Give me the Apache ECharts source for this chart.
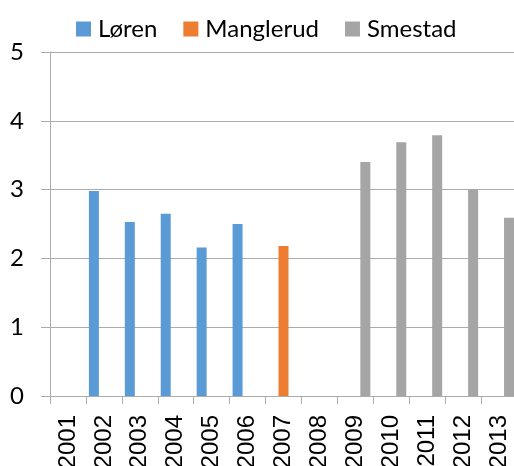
<!DOCTYPE html>
<html>
<head>
<meta charset="utf-8">
<script src="https://cdn.jsdelivr.net/npm/echarts@6/dist/echarts.min.js"></script>
<style>
  html, body { margin: 0; padding: 0; background: #fff; }
  #chart { width: 514px; height: 466px; }
</style>
</head>
<body>
<div id="chart"></div>
<script>
// categories and values
var years = ['2001', '2002', '2003', '2004', '2005', '2006', '2007', '2008', '2009', '2010', '2011', '2012', '2013'];
var loren = [null, 2.98, 2.53, 2.65, 2.16, 2.50, null, null, null, null, null, null, null];
var manglerud = [null, null, null, null, null, null, 2.18, null, null, null, null, null, null];
var smestad = [null, null, null, null, null, null, null, null, 3.40, 3.69, 3.79, 3.00, 2.59];

var gridColor = '#ababab';

var chart = echarts.init(document.getElementById('chart'));

var barBase = { type: 'bar', barWidth: 10, barGap: '0%' };

var option = {
    animation: false,
    legend: {
        left: 76,
        top: 17,
        padding: 0,
        itemWidth: 15,
        itemHeight: 15,
        itemGap: 26,
        icon: 'rect',
        textStyle: { fontFamily: 'Lato', fontSize: 24, color: '#000', padding: [0, 0, 0, 2] },
        data: ['Løren', 'Manglerud', 'Smestad']
    },
    grid: { left: 50, top: 52, bottom: 70, right: -3, outerBoundsMode: 'none', containLabel: false },
    xAxis: {
        type: 'category',
        data: years,
        axisLine: { lineStyle: { color: gridColor, width: 1 } },
        axisTick: { show: true, length: 8, lineStyle: { color: gridColor } },
        axisLabel: {
            rotate: 90,
            margin: 19,
            fontFamily: 'Liberation Sans',
            fontSize: 24,
            color: '#000'
        }
    },
    yAxis: {
        type: 'value',
        min: 0,
        max: 5,
        interval: 1,
        axisLine: { show: true, lineStyle: { color: gridColor, width: 1 } },
        axisTick: { show: true, length: 9, lineStyle: { color: gridColor } },
        splitLine: { lineStyle: { color: gridColor, width: 1 } },
        axisLabel: { margin: 26, fontFamily: 'Lato', fontSize: 24, color: '#000' }
    },
    series: [
        Object.assign({ name: 'Løren', data: loren, itemStyle: { color: '#5b9bd5' } }, barBase),
        Object.assign({ name: 'Manglerud', data: manglerud, itemStyle: { color: '#ed7d31' } }, barBase),
        Object.assign({ name: 'Smestad', data: smestad, itemStyle: { color: '#a5a5a5' } }, barBase)
    ]
};

chart.setOption(option);
</script>
</body>
</html>
